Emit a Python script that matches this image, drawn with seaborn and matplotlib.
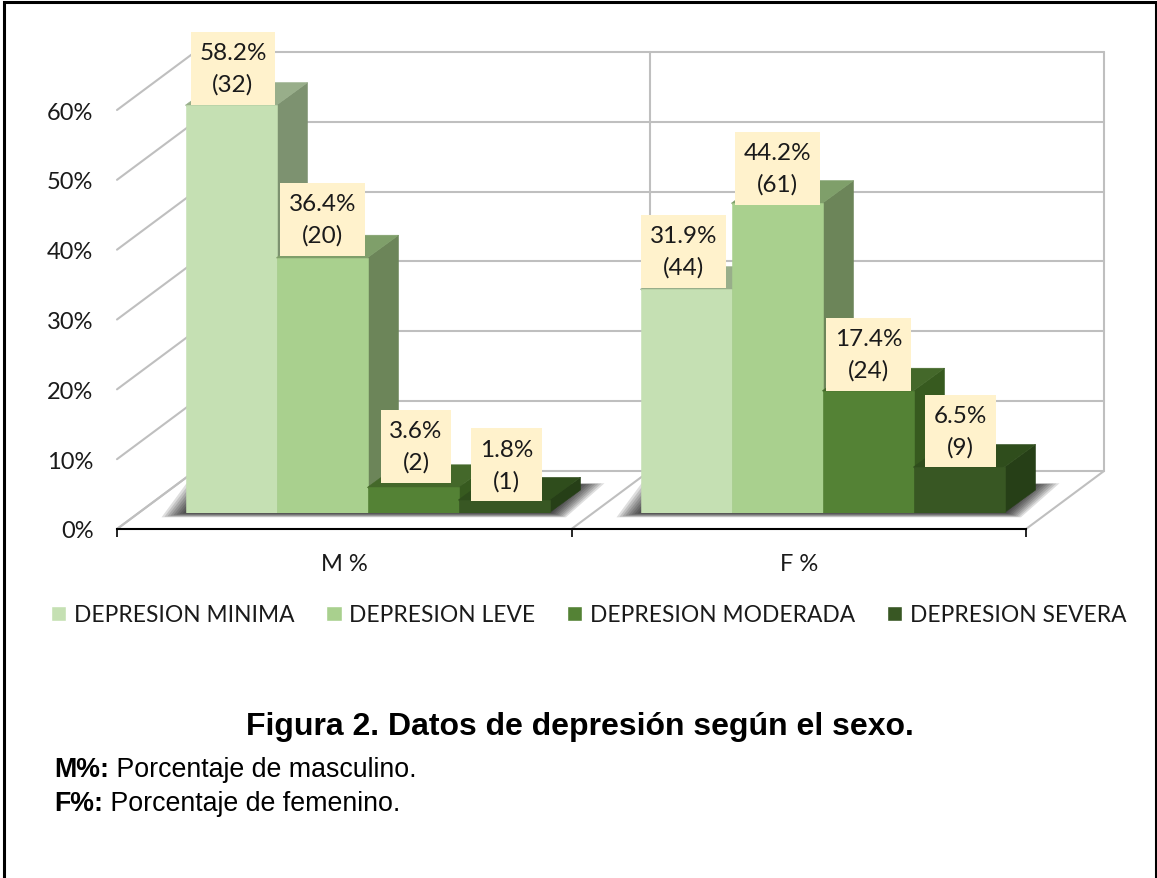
import pandas as pd
import matplotlib
matplotlib.use('Agg')
import matplotlib.pyplot as plt
from matplotlib.patches import Polygon, Rectangle
import seaborn as sns

grupos = ['M %', 'F %']
niveles = ['DEPRESION MINIMA', 'DEPRESION LEVE', 'DEPRESION MODERADA', 'DEPRESION SEVERA']

minima = [58.2, 31.9]
leve = [36.4, 44.2]
moderada = [3.6, 17.4]
severa = [1.8, 6.5]

casos_minima = [32, 44]
casos_leve = [20, 61]
casos_moderada = [2, 24]
casos_severa = [1, 9]

colores = ['#C5E0B3', '#A9D08E', '#548235', '#385723']
colores_lado = ['#7D9270', '#6C8559', '#375A1F', '#263F17']
colores_tapa = ['#98AE8A', '#7F9F6A', '#44682A', '#2F4D1C']

y_ticks = [0, 10, 20, 30, 40, 50, 60]

# ajuste fino de las etiquetas en pixeles, por grupo y nivel
ajuste_x = [[2, 0.5, 3, 2.5], [-2.5, 0.5, 0.5, 1.5]]
ajuste_y = [[2, 3, 6, 0], [3, 0, 1, 1]]

W, H = 1157, 879


def caja(izq, arriba, der, abajo):
    return [izq / W, 1 - abajo / H, (der - izq) / W, (abajo - arriba) / H]


filas = []
for nivel, vals, cas in zip(niveles,
                            [minima, leve, moderada, severa],
                            [casos_minima, casos_leve, casos_moderada, casos_severa]):
    for g, v, c in zip(grupos, vals, cas):
        filas.append({'grupo': g, 'nivel': nivel, 'pct': v, 'casos': c})
df = pd.DataFrame(filas)

sns.set_theme(style='white')
plt.rcParams['font.family'] = ['Lato', 'DejaVu Sans']

fig = plt.figure(figsize=(W / 100, H / 100), dpi=100, facecolor='white')

# marco negro de la figura
fig.add_artist(Rectangle((4 / W, -0.01), (1152 / W), 1 - 3 / H + 0.01, transform=fig.transFigure,
                         fill=False, edgecolor='black', linewidth=2.2))

# plano frontal: eje, ticks y paredes del falso 3D
frente = fig.add_axes(caja(117, 111, 1026, 530))
frente.set_xlim(0, 2)
frente.set_ylim(0, 60)
frente.set_facecolor('none')
for lado in ['left', 'right', 'top']:
    frente.spines[lado].set_visible(False)
frente.spines['bottom'].set_linewidth(1.5)
frente.spines['bottom'].set_color('black')
frente.set_xticks([0, 1, 2])
frente.set_xticklabels([])
frente.set_xticks([0.5, 1.5], minor=True)
frente.set_xticklabels(grupos, minor=True, fontsize=17, color='#1a1a1a')
frente.tick_params(axis='x', which='major', length=6, width=1.2, color='black', bottom=True)
frente.tick_params(axis='x', which='minor', length=0, pad=17)
frente.set_yticks(y_ticks)
frente.set_yticklabels([f'{t}%' for t in y_ticks], fontsize=17, color='#1a1a1a')
frente.tick_params(axis='y', length=0, pad=17)

fx = 78 / 454.5
fy = 58 / 6.983
gris = '#BFBFBF'
for t in y_ticks:
    frente.plot([0, fx], [t, t + fy], color=gris, lw=1.5, clip_on=False, zorder=1)
    frente.plot([fx, 2 + fx], [t + fy, t + fy], color=gris, lw=1.5, clip_on=False, zorder=1)
for xx in [0, 1, 2]:
    frente.plot([xx, xx + fx], [0, fy], color=gris, lw=1.5, clip_on=False, zorder=1)
    frente.plot([xx + fx, xx + fx], [fy, 60 + fy], color=gris, lw=1.5, clip_on=False, zorder=1)

# barras
ax = fig.add_axes(caja(140, 23.5, 1050, 513.5))
ax.set_zorder(2)
sns.barplot(data=df, x='grupo', y='pct', hue='nivel', hue_order=niveles,
            palette=colores, width=0.8, gap=0, saturation=1, ax=ax)
ax.set_xlim(-0.5, 1.5)
ax.set_ylim(0, 70)
handles, labels = ax.get_legend_handles_labels()

sx = 455.0
sy = 7.0
dx = 31 / sx
dy = 22.5 / sy

barras = []
for nivel_i, cont in enumerate(ax.containers):
    for grupo_i, p in enumerate(cont.patches):
        barras.append((grupo_i, nivel_i, p))
barras.sort(key=lambda b: (b[0], b[1]))

for grupo_i, nivel_i, p in barras:
    x0, w, h = p.get_x(), p.get_width(), p.get_height()
    z = 3 + nivel_i
    p.set_zorder(z + 0.2)
    p.set_edgecolor(colores[nivel_i])
    p.set_linewidth(0.4)
    # lado y tapa entran un poco bajo la cara frontal para que no quede costura blanca
    sx_in = 2 / sx
    sy_in = 2 / sy
    ax.add_patch(Polygon([(x0 + w - sx_in, sy_in), (x0 + w, 0), (x0 + w + dx, dy), (x0 + w + dx, h + dy),
                          (x0 + w, h), (x0 + w - sx_in, h - sy_in)],
                         facecolor=colores_lado[nivel_i], edgecolor=colores_lado[nivel_i],
                         linewidth=0.4, zorder=z))
    ax.add_patch(Polygon([(x0 + sx_in, h - sy_in), (x0, h), (x0 + dx, h + dy), (x0 + w + dx, h + dy),
                          (x0 + w, h), (x0 + w - sx_in, h - sy_in)],
                         facecolor=colores_tapa[nivel_i], edgecolor=colores_tapa[nivel_i],
                         linewidth=0.4, zorder=z + 0.1))

# sombra difusa en el piso
for grupo_i in range(len(grupos)):
    grupo_barras = [b[2] for b in barras if b[0] == grupo_i]
    L = grupo_barras[0].get_x()
    R = grupo_barras[-1].get_x() + grupo_barras[-1].get_width()
    for k in range(9):
        g = k * 3.0
        ax.add_patch(Polygon([(L - (0 + g) / sx, -(0.5 + g * 0.18) / sy),
                              (R + (2 + g * 0.6) / sx, -(0.5 + g * 0.18) / sy),
                              (R + (31 + g) / sx, (28 + g * 0.05) / sy),
                              (L + (25 - g) / sx, (28 + g * 0.05) / sy)],
                             facecolor='black', alpha=0.13, edgecolor='none', zorder=1,
                             clip_on=False))

# etiquetas de valor
for grupo_i, nivel_i, p in barras:
    fila = df[(df['grupo'] == grupos[grupo_i]) & (df['nivel'] == niveles[nivel_i])].iloc[0]
    ax.annotate(f"{fila['pct']}%\n({fila['casos']})",
                xy=(p.get_x() + p.get_width() / 2, p.get_height()),
                xytext=(ajuste_x[grupo_i][nivel_i] * 0.72, (35 + ajuste_y[grupo_i][nivel_i]) * 0.72),
                textcoords='offset points',
                ha='center', va='center', fontsize=17.5, color='#1a1a1a',
                linespacing=1.57, annotation_clip=False, zorder=20,
                bbox=dict(boxstyle='square,pad=0.35', mutation_aspect=1.2,
                          facecolor='#FFF2CC', edgecolor='none'))

ax.set_axis_off()
ax.legend(handles, labels, ncol=4, loc='center left', frameon=False,
          bbox_to_anchor=(51 / W, 1 - 616 / H), bbox_transform=fig.transFigure,
          fontsize=16.4, labelcolor='#1a1a1a', handlelength=0.68, handleheight=0.68,
          handletextpad=0.32, columnspacing=1.4, borderpad=0, borderaxespad=0)

fig.text(580 / W, 1 - 727 / H, 'Figura 2. Datos de depresión según el sexo.',
         family='Liberation Sans', fontweight='bold', fontsize=23,
         ha='center', va='center', color='black')
notas = [('M%:', ' Porcentaje de masculino.', 770), ('F%:', ' Porcentaje de femenino.', 804)]
for neg, txt, yy in notas:
    t = fig.text(54 / W, 1 - yy / H, neg, family='Liberation Sans', fontweight='bold',
                 fontsize=19.3, ha='left', va='center', color='black')
    fig.canvas.draw()
    bb = t.get_window_extent()
    fig.text(bb.x1 / W, 1 - yy / H, txt, family='Liberation Sans', fontsize=19.3,
             ha='left', va='center', color='black')

fig.savefig('out.png', dpi=100)
